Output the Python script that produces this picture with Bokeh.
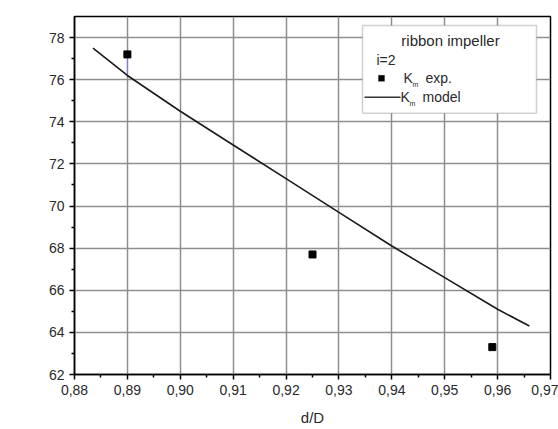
from bokeh.plotting import figure
from bokeh.models import FixedTicker, Label, BoxAnnotation, Range1d
from bokeh.embed import file_html
from bokeh.resources import INLINE

# ---- data ----
exp_x = [0.890, 0.925, 0.959]
exp_y = [77.2, 67.7, 63.3]

model_x = [0.8835, 0.890, 0.900, 0.910, 0.920, 0.930, 0.940, 0.950, 0.960, 0.966]
model_y = [77.5, 76.2, 74.5, 72.9, 71.3, 69.7, 68.1, 66.6, 65.1, 64.3]

err_x = [0.890]
err_y0 = [77.2]
err_y1 = [76.2]

x_ticks = [0.88, 0.89, 0.90, 0.91, 0.92, 0.93, 0.94, 0.95, 0.96, 0.97]
x_tick_labels = ["0,88", "0,89", "0,90", "0,91", "0,92", "0,93", "0,94", "0,95", "0,96", "0,97"]
x_minor = [0.885, 0.895, 0.905, 0.915, 0.925, 0.935, 0.945, 0.955, 0.965]
y_ticks = [62, 64, 66, 68, 70, 72, 74, 76, 78]
y_minor = [63, 65, 67, 69, 71, 73, 75, 77]

FONT = "Liberation Sans"
TXT = "#2a2a2a"

p = figure(width=558, height=428, output_backend="svg", toolbar_location=None,
           x_range=Range1d(0.88, 0.97), y_range=Range1d(62, 79),
           min_border_left=74, min_border_right=8, min_border_top=16, min_border_bottom=53)
p.background_fill_color = "white"
p.border_fill_color = "white"
p.outline_line_color = "black"
p.outline_line_width = 1.5

p.xaxis.ticker = FixedTicker(ticks=x_ticks, minor_ticks=x_minor)
p.xaxis.major_label_overrides = {t: l for t, l in zip(x_ticks, x_tick_labels)}
p.yaxis.ticker = FixedTicker(ticks=y_ticks, minor_ticks=y_minor)

for ax in (p.xaxis, p.yaxis):
    ax.axis_line_color = "black"
    ax.axis_line_width = 1.5
    ax.major_tick_line_color = "black"
    ax.major_tick_line_width = 1.5
    ax.major_tick_out = 5
    ax.major_tick_in = 0
    ax.minor_tick_line_color = "black"
    ax.minor_tick_line_width = 1.5
    ax.minor_tick_out = 3
    ax.minor_tick_in = 0
    ax.major_label_text_font = FONT
    ax.major_label_text_font_size = "14px"
    ax.major_label_text_color = TXT
    ax.major_label_standoff = 5

p.xaxis.axis_label = "d/D"
p.xaxis.axis_label_text_font = FONT
p.xaxis.axis_label_text_font_size = "15px"
p.xaxis.axis_label_text_font_style = "normal"
p.xaxis.axis_label_text_color = TXT
p.xaxis.axis_label_standoff = 11

p.xgrid.ticker = FixedTicker(ticks=x_ticks)
p.ygrid.ticker = FixedTicker(ticks=y_ticks)
p.grid.grid_line_color = "#8f8f8f"
p.grid.grid_line_width = 1.5

p.segment(x0=err_x, y0=err_y0, x1=err_x, y1=err_y1, line_color="#8080e0", line_width=1)
p.line(model_x, model_y, line_color="#1a1a1a", line_width=1.6)
p.scatter(exp_x, exp_y, marker="square", size=7, fill_color="black", line_color="black")

# ---- helpers converting page pixels to data coords for annotations ----
def dx(px):
    return 0.88 + (px - 74) / 476 * 0.09

def dy(py):
    return 62 + (375 - py) / 359 * 17

# y axis label K_m (horizontal)
p.add_layout(Label(x=dx(12), y=dy(101), text="K", text_font=FONT, text_font_size="16px",
                   text_color=TXT, text_baseline="middle", text_align="left"))
p.add_layout(Label(x=dx(23), y=dy(110), text="m", text_font=FONT, text_font_size="10px",
                   text_color=TXT, text_baseline="middle", text_align="left"))

# legend box
p.add_layout(BoxAnnotation(left=dx(362), right=dx(536), top=dy(25), bottom=dy(113),
                           fill_color="white", fill_alpha=1.0,
                           line_color="#666666", line_width=1.5))
p.add_layout(Label(x=dx(450), y=dy(40), text="ribbon impeller", text_font=FONT,
                   text_font_size="15px", text_color=TXT,
                   text_align="center", text_baseline="middle"))
p.add_layout(Label(x=dx(376), y=dy(60), text="i=2", text_font=FONT,
                   text_font_size="14px", text_color=TXT,
                   text_align="left", text_baseline="middle"))
# marker swatch
p.add_layout(BoxAnnotation(left=dx(378), right=dx(384), top=dy(75), bottom=dy(81),
                           fill_color="black", fill_alpha=1.0, line_color="black"))
p.add_layout(Label(x=dx(403), y=dy(78), text="K", text_font=FONT, text_font_size="14px",
                   text_color=TXT, text_align="left", text_baseline="middle"))
p.add_layout(Label(x=dx(412), y=dy(84), text="m", text_font=FONT, text_font_size="7px",
                   text_color=TXT, text_align="left", text_baseline="middle"))
p.add_layout(Label(x=dx(425), y=dy(78), text="exp.", text_font=FONT, text_font_size="14px",
                   text_color=TXT, text_align="left", text_baseline="middle"))
# line swatch
p.add_layout(BoxAnnotation(left=dx(364), right=dx(400), top=dy(96.3), bottom=dy(97.7),
                           fill_color="#333333", fill_alpha=1.0, line_alpha=0))
p.add_layout(Label(x=dx(400), y=dy(97), text="K", text_font=FONT, text_font_size="14px",
                   text_color=TXT, text_align="left", text_baseline="middle"))
p.add_layout(Label(x=dx(409), y=dy(103), text="m", text_font=FONT, text_font_size="7px",
                   text_color=TXT, text_align="left", text_baseline="middle"))
p.add_layout(Label(x=dx(422), y=dy(97), text="model", text_font=FONT, text_font_size="14px",
                   text_color=TXT, text_align="left", text_baseline="middle"))

open("out.html", "w").write(file_html(p, INLINE))
